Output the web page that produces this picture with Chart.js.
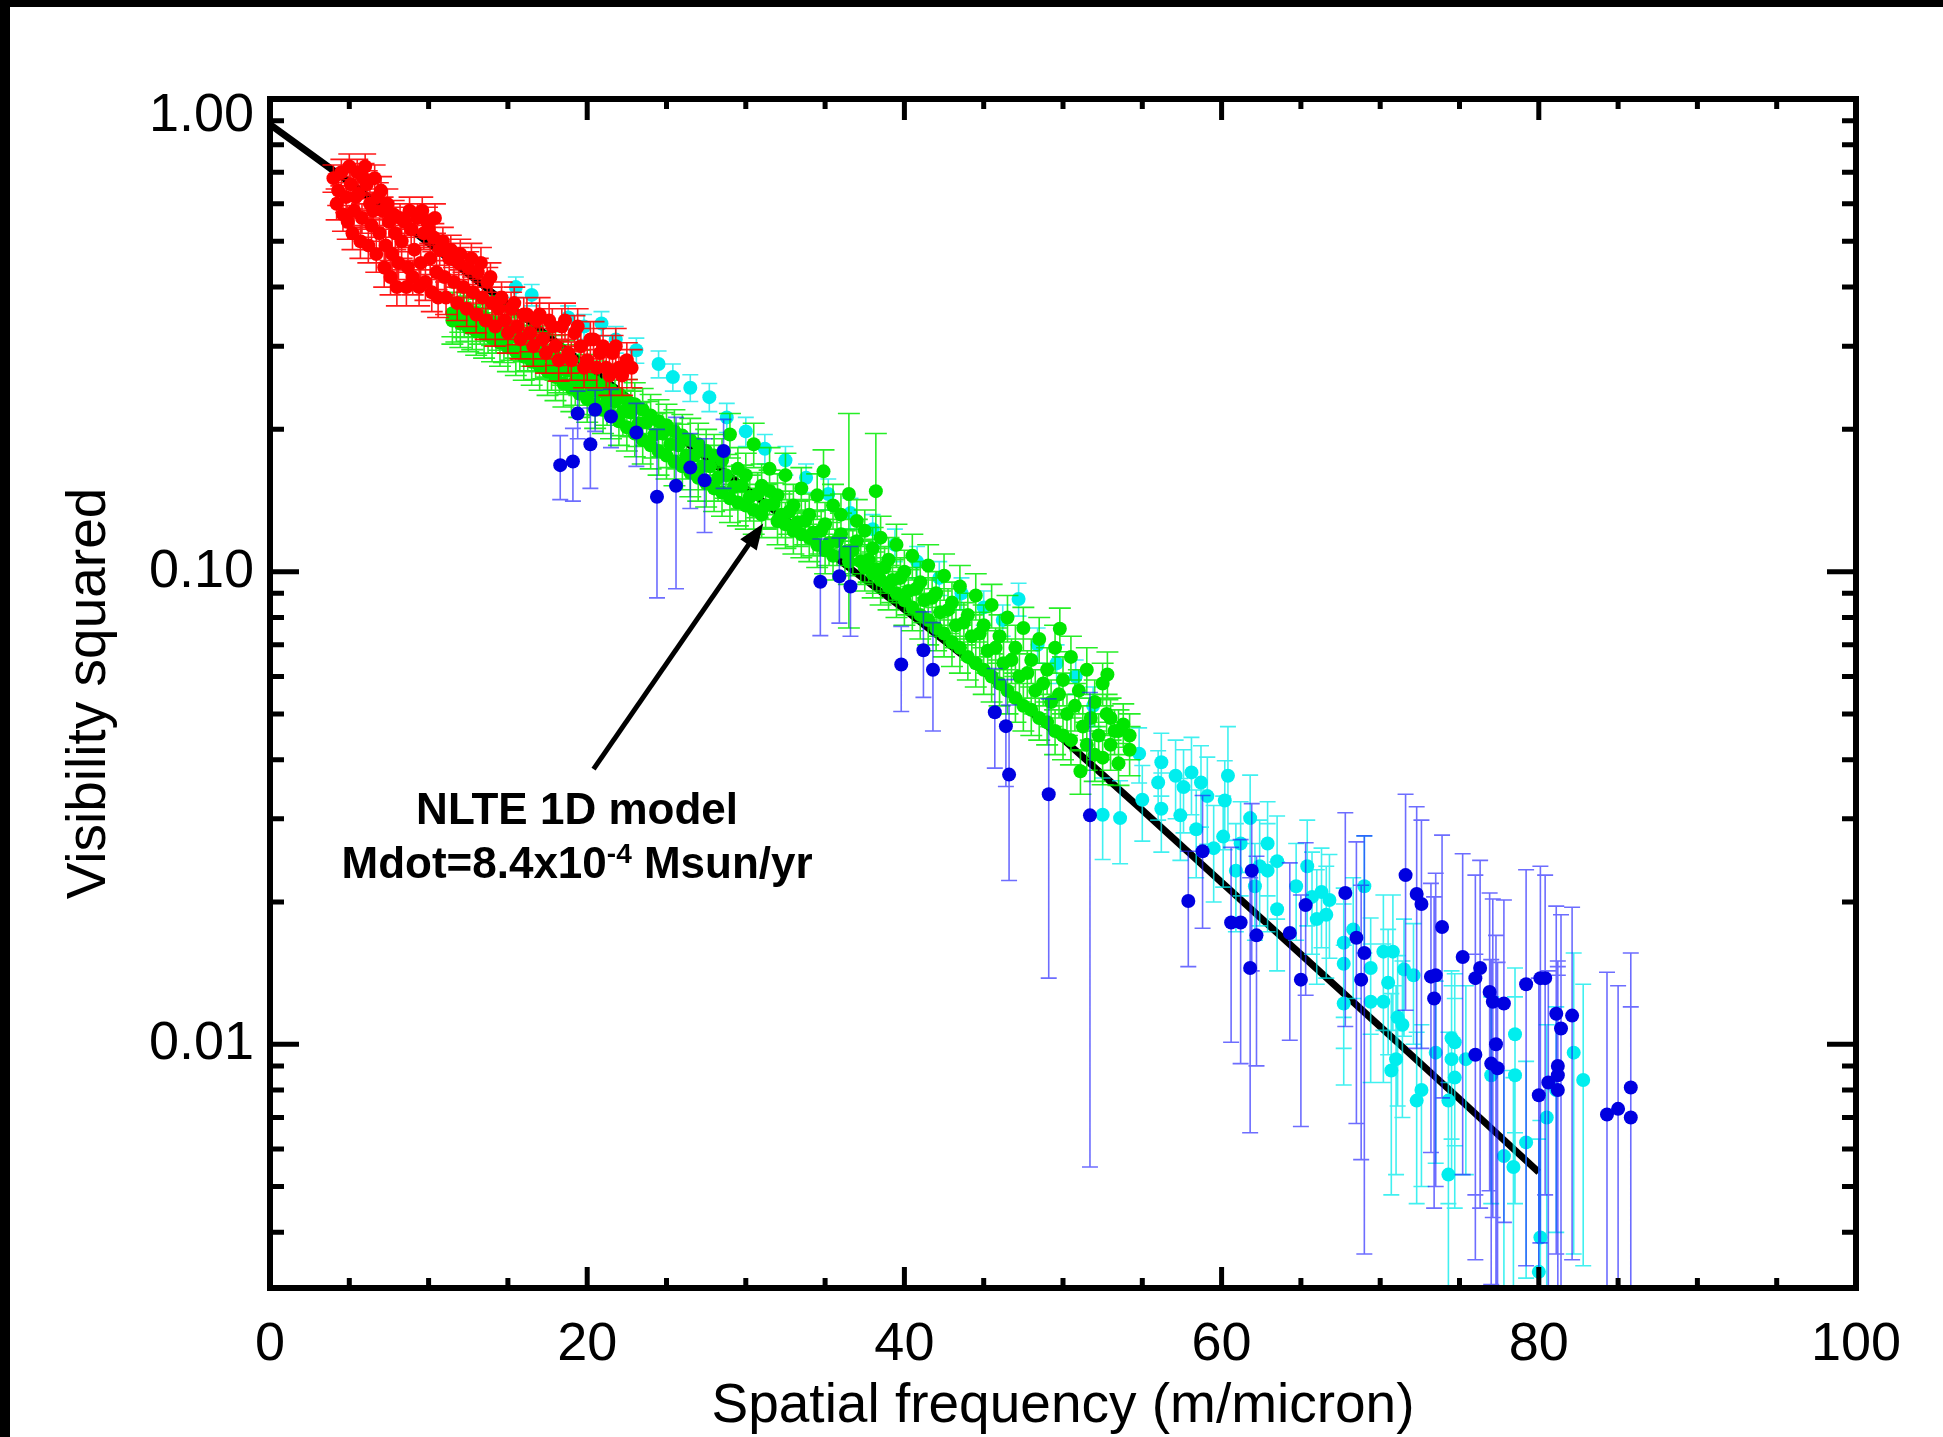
<!DOCTYPE html>
<html>
<head>
<meta charset="utf-8">
<title>Visibility squared</title>
<script src="https://cdn.jsdelivr.net/npm/chart.js@4.4.1/dist/chart.umd.min.js"></script>
<style>
  html, body { margin: 0; padding: 0; background: #fff; }
  canvas { display: block; }
</style>
</head>
<body>
<canvas id="canvas" width="1943" height="1437"></canvas>
<script>
// [freq espacial, V^2, erro]
const vermelho = [
  [4.0, 0.68, 0.045], [4.2, 0.60, 0.045], [4.3, 0.64, 0.045], [4.5, 0.70, 0.045], [4.6, 0.57, 0.045],
  [4.8, 0.62, 0.045], [4.9, 0.55, 0.045], [5.0, 0.72, 0.045], [5.1, 0.66, 0.045], [5.2, 0.52, 0.040],
  [5.3, 0.58, 0.045], [5.4, 0.62, 0.045], [5.5, 0.70, 0.045], [5.6, 0.63, 0.045], [5.7, 0.50, 0.040],
  [5.8, 0.56, 0.040], [5.9, 0.68, 0.050], [6.0, 0.72, 0.045], [6.1, 0.66, 0.045], [6.2, 0.49, 0.040],
  [6.3, 0.60, 0.045], [6.4, 0.54, 0.040], [6.5, 0.58, 0.045], [6.6, 0.68, 0.045], [6.7, 0.47, 0.040],
  [6.8, 0.62, 0.045], [6.9, 0.52, 0.040], [7.0, 0.64, 0.045], [7.1, 0.58, 0.040], [7.2, 0.44, 0.040],
  [7.3, 0.49, 0.040], [7.4, 0.60, 0.045], [7.5, 0.55, 0.040], [7.6, 0.42, 0.035], [7.7, 0.47, 0.040],
  [7.8, 0.57, 0.040], [7.9, 0.52, 0.040], [8.0, 0.40, 0.035], [8.1, 0.45, 0.035], [8.2, 0.56, 0.040],
  [8.3, 0.50, 0.040], [8.5, 0.55, 0.040], [8.6, 0.40, 0.035], [8.7, 0.44, 0.035], [8.8, 0.58, 0.040],
  [8.9, 0.53, 0.040], [9.0, 0.42, 0.035], [9.1, 0.48, 0.035], [9.3, 0.56, 0.040], [9.4, 0.40, 0.035],
  [9.5, 0.45, 0.035], [9.6, 0.58, 0.040], [9.7, 0.52, 0.040], [9.8, 0.41, 0.035], [9.9, 0.55, 0.040],
  [10.0, 0.53, 0.040], [10.1, 0.46, 0.035], [10.2, 0.39, 0.035], [10.3, 0.51, 0.035], [10.4, 0.56, 0.040],
  [10.5, 0.43, 0.035], [10.6, 0.38, 0.035], [10.7, 0.48, 0.035], [10.9, 0.50, 0.035], [11.0, 0.42, 0.035],
  [11.1, 0.38, 0.030], [11.3, 0.46, 0.035], [11.4, 0.48, 0.035], [11.6, 0.41, 0.030], [11.8, 0.37, 0.030],
  [11.9, 0.45, 0.035], [12.0, 0.47, 0.035], [12.2, 0.40, 0.030], [12.4, 0.36, 0.030], [12.5, 0.44, 0.035],
  [12.7, 0.46, 0.035], [12.8, 0.39, 0.030], [13.0, 0.35, 0.030], [13.1, 0.43, 0.030], [13.3, 0.45, 0.035],
  [13.4, 0.38, 0.030], [13.6, 0.34, 0.030], [13.7, 0.41, 0.030], [13.9, 0.42, 0.030], [14.0, 0.37, 0.030],
  [14.2, 0.33, 0.030], [14.4, 0.36, 0.030], [14.6, 0.38, 0.030], [14.8, 0.34, 0.030], [15.0, 0.32, 0.030],
  [15.2, 0.36, 0.030], [15.4, 0.37, 0.030], [15.6, 0.33, 0.028], [15.8, 0.31, 0.028], [16.0, 0.35, 0.030],
  [16.2, 0.35, 0.030], [16.4, 0.32, 0.028], [16.6, 0.30, 0.028], [16.8, 0.34, 0.030], [17.0, 0.35, 0.030],
  [17.2, 0.31, 0.028], [17.4, 0.29, 0.027], [17.6, 0.34, 0.030], [17.8, 0.33, 0.030], [18.0, 0.30, 0.027],
  [18.2, 0.28, 0.027], [18.4, 0.33, 0.030], [18.6, 0.34, 0.030], [18.8, 0.29, 0.027], [19.0, 0.28, 0.026],
  [19.2, 0.32, 0.028], [19.4, 0.33, 0.030], [19.6, 0.30, 0.027], [19.8, 0.27, 0.025], [20.0, 0.28, 0.026],
  [20.2, 0.31, 0.028], [20.4, 0.31, 0.028], [20.6, 0.27, 0.025], [20.8, 0.29, 0.026], [21.0, 0.30, 0.027],
  [21.2, 0.27, 0.025], [21.4, 0.26, 0.024], [21.6, 0.29, 0.026], [21.8, 0.30, 0.027], [22.0, 0.27, 0.025],
  [22.2, 0.26, 0.024], [22.5, 0.28, 0.025], [22.8, 0.27, 0.025]
];

const verde = [
  [11.5, 0.352, 0.038], [11.5, 0.340, 0.037], [12.0, 0.335, 0.037], [12.0, 0.360, 0.039], [12.5, 0.345, 0.038],
  [12.5, 0.328, 0.036], [13.0, 0.352, 0.038], [13.0, 0.322, 0.035], [13.5, 0.318, 0.035], [13.5, 0.345, 0.038],
  [14.0, 0.312, 0.034], [14.0, 0.338, 0.037], [14.5, 0.330, 0.036], [14.5, 0.305, 0.033], [15.0, 0.298, 0.033],
  [15.0, 0.325, 0.035], [15.5, 0.318, 0.035], [15.5, 0.292, 0.032], [16.0, 0.285, 0.031], [16.0, 0.312, 0.034],
  [16.5, 0.305, 0.033], [16.5, 0.278, 0.030], [17.0, 0.272, 0.030], [17.0, 0.298, 0.033], [17.5, 0.290, 0.032],
  [17.5, 0.265, 0.029], [18.0, 0.258, 0.028], [18.0, 0.285, 0.031], [18.5, 0.278, 0.030], [18.5, 0.250, 0.027],
  [19.0, 0.245, 0.027], [19.0, 0.272, 0.030], [19.5, 0.265, 0.029], [19.5, 0.238, 0.026], [20.0, 0.232, 0.025],
  [20.0, 0.260, 0.028], [20.5, 0.252, 0.027], [20.5, 0.226, 0.025], [21.0, 0.220, 0.024], [21.0, 0.248, 0.027],
  [21.5, 0.242, 0.026], [21.5, 0.214, 0.023], [22.0, 0.208, 0.023], [22.0, 0.238, 0.026], [22.5, 0.230, 0.025],
  [22.5, 0.202, 0.022], [23.0, 0.196, 0.021], [23.0, 0.226, 0.025], [23.5, 0.220, 0.024], [23.5, 0.190, 0.021],
  [24.0, 0.185, 0.020], [24.0, 0.214, 0.023], [24.5, 0.208, 0.023], [24.5, 0.180, 0.020], [25.0, 0.176, 0.019],
  [25.0, 0.204, 0.022], [25.5, 0.198, 0.022], [25.5, 0.171, 0.019], [26.0, 0.167, 0.018], [26.0, 0.194, 0.021],
  [26.5, 0.190, 0.021], [26.5, 0.162, 0.018], [27.0, 0.158, 0.017], [27.0, 0.186, 0.020], [27.5, 0.180, 0.020],
  [27.5, 0.154, 0.017], [28.0, 0.150, 0.016], [28.0, 0.176, 0.019], [28.5, 0.172, 0.019], [28.5, 0.147, 0.016],
  [29.0, 0.143, 0.016], [29.0, 0.195, 0.021], [29.5, 0.165, 0.018], [29.5, 0.140, 0.015], [30.0, 0.138, 0.015],
  [30.0, 0.160, 0.018], [30.5, 0.186, 0.020], [30.5, 0.135, 0.015], [31.0, 0.152, 0.017], [31.0, 0.132, 0.014],
  [31.5, 0.148, 0.016], [31.5, 0.165, 0.018], [32.0, 0.128, 0.014], [32.0, 0.145, 0.016], [32.5, 0.160, 0.018],
  [32.5, 0.126, 0.014], [33.0, 0.138, 0.015], [33.0, 0.122, 0.013], [33.5, 0.150, 0.016], [33.5, 0.120, 0.013],
  [34.0, 0.132, 0.014], [34.0, 0.118, 0.013], [34.5, 0.145, 0.016], [34.5, 0.114, 0.012], [34.9, 0.163, 0.018],
  [35.0, 0.126, 0.014], [35.0, 0.111, 0.012], [35.5, 0.138, 0.015], [35.5, 0.108, 0.012], [36.0, 0.120, 0.013],
  [36.0, 0.132, 0.014], [36.5, 0.146, 0.070], [36.5, 0.105, 0.011], [37.0, 0.116, 0.013], [37.0, 0.128, 0.014],
  [37.5, 0.102, 0.011], [37.5, 0.122, 0.013], [38.0, 0.112, 0.012], [38.0, 0.099, 0.011], [38.2, 0.148, 0.048],
  [38.5, 0.118, 0.013], [38.5, 0.096, 0.011], [39.0, 0.106, 0.012], [39.0, 0.093, 0.010], [39.5, 0.114, 0.012],
  [39.5, 0.090, 0.010], [40.0, 0.100, 0.011], [40.0, 0.087, 0.010], [40.5, 0.108, 0.012], [40.5, 0.084, 0.009],
  [41.0, 0.095, 0.010], [41.0, 0.081, 0.009], [41.5, 0.103, 0.011], [41.5, 0.079, 0.009], [42.0, 0.090, 0.010],
  [42.0, 0.076, 0.008], [42.5, 0.098, 0.011], [42.5, 0.074, 0.008], [43.0, 0.086, 0.009], [43.0, 0.071, 0.008],
  [43.5, 0.093, 0.010], [43.5, 0.069, 0.008], [44.0, 0.081, 0.009], [44.0, 0.066, 0.007], [44.5, 0.089, 0.010],
  [44.5, 0.064, 0.007], [45.0, 0.077, 0.008], [45.0, 0.062, 0.007], [45.5, 0.085, 0.009], [45.5, 0.060, 0.007],
  [46.0, 0.073, 0.008], [46.0, 0.058, 0.006], [46.5, 0.080, 0.009], [46.5, 0.056, 0.006], [47.0, 0.069, 0.008],
  [47.0, 0.054, 0.006], [47.5, 0.076, 0.008], [47.5, 0.052, 0.006], [48.0, 0.065, 0.007], [48.0, 0.051, 0.006],
  [48.5, 0.072, 0.008], [48.5, 0.049, 0.005], [49.0, 0.062, 0.007], [49.0, 0.048, 0.005], [49.5, 0.069, 0.008],
  [49.5, 0.046, 0.005], [49.8, 0.0757, 0.008], [50.0, 0.059, 0.007], [50.0, 0.045, 0.005], [50.5, 0.066, 0.007],
  [50.5, 0.044, 0.005], [51.0, 0.056, 0.006], [51.1, 0.0378, 0.004], [51.5, 0.062, 0.007], [51.5, 0.043, 0.005],
  [52.0, 0.053, 0.006], [52.0, 0.041, 0.005], [52.5, 0.0404, 0.005], [52.5, 0.058, 0.006], [52.8, 0.0606, 0.007],
  [53.0, 0.049, 0.005], [53.0, 0.043, 0.005], [53.5, 0.0393, 0.004], [53.5, 0.046, 0.005], [53.8, 0.0475, 0.005],
  [54.2, 0.042, 0.005], [54.2, 0.045, 0.005],
  // pontos do meio da faixa
  [11.75, 0.343, 0.037], [12.25, 0.351, 0.038], [12.75, 0.331, 0.036], [13.25, 0.340, 0.037], [13.75, 0.326, 0.036],
  [14.25, 0.325, 0.035], [14.75, 0.311, 0.034], [15.25, 0.314, 0.034], [15.75, 0.298, 0.033], [16.25, 0.299, 0.033],
  [16.75, 0.286, 0.031], [17.25, 0.287, 0.031], [17.75, 0.272, 0.030], [18.25, 0.268, 0.029], [18.75, 0.266, 0.029],
  [19.25, 0.253, 0.028], [19.75, 0.252, 0.027], [20.25, 0.241, 0.026], [20.75, 0.240, 0.026], [21.25, 0.229, 0.025],
  [21.75, 0.229, 0.025], [22.25, 0.218, 0.024], [22.75, 0.217, 0.024], [23.25, 0.206, 0.022], [23.75, 0.207, 0.022],
  [24.25, 0.195, 0.021], [24.75, 0.196, 0.021], [25.25, 0.186, 0.020], [25.75, 0.185, 0.020], [26.25, 0.176, 0.019],
  [26.75, 0.176, 0.019], [27.25, 0.167, 0.018], [27.75, 0.167, 0.018], [28.25, 0.158, 0.017], [28.75, 0.160, 0.017],
  [29.25, 0.151, 0.016], [29.75, 0.152, 0.016], [30.25, 0.144, 0.016], [30.75, 0.146, 0.016], [31.25, 0.138, 0.015],
  [31.75, 0.139, 0.015], [32.25, 0.132, 0.014], [32.75, 0.134, 0.014], [33.25, 0.127, 0.014], [33.75, 0.128, 0.014],
  [34.25, 0.121, 0.013], [34.75, 0.122, 0.013], [35.25, 0.115, 0.012], [35.75, 0.116, 0.013], [36.25, 0.110, 0.012],
  [36.75, 0.111, 0.012], [37.25, 0.105, 0.011], [37.75, 0.106, 0.011], [38.25, 0.101, 0.011], [38.75, 0.102, 0.011],
  [39.25, 0.096, 0.010], [39.75, 0.097, 0.010], [40.25, 0.091, 0.010], [40.75, 0.092, 0.010], [41.25, 0.087, 0.009],
  [41.75, 0.088, 0.009], [42.25, 0.082, 0.009], [42.75, 0.083, 0.009], [43.25, 0.077, 0.008], [43.75, 0.078, 0.008],
  [44.25, 0.073, 0.008], [44.75, 0.074, 0.008], [45.25, 0.068, 0.007], [45.75, 0.069, 0.007], [46.25, 0.064, 0.007],
  [46.75, 0.065, 0.007], [47.25, 0.060, 0.007], [47.75, 0.061, 0.007], [48.25, 0.056, 0.006], [48.75, 0.058, 0.006],
  [49.25, 0.053, 0.006], [49.75, 0.055, 0.006], [50.25, 0.050, 0.005], [50.75, 0.052, 0.006], [51.25, 0.047, 0.005],
  [51.75, 0.049, 0.005], [52.25, 0.045, 0.005], [52.75, 0.050, 0.005], [53.25, 0.046, 0.005]
];

const ciano = [
  [15.5, 0.40, 0.02], [16.5, 0.385, 0.02], [18.8, 0.345, 0.02], [19.8, 0.33, 0.02], [20.9, 0.335, 0.02],
  [21.8, 0.31, 0.02], [23.1, 0.294, 0.018], [24.5, 0.275, 0.018], [25.4, 0.258, 0.017], [26.5, 0.245, 0.016],
  [27.7, 0.234, 0.016], [28.8, 0.212, 0.015], [30.0, 0.198, 0.014], [31.2, 0.182, 0.013], [32.5, 0.172, 0.012],
  [33.8, 0.158, 0.011], [35.2, 0.146, 0.011], [36.6, 0.133, 0.010], [38.0, 0.123, 0.009], [39.4, 0.114, 0.009],
  [40.8, 0.105, 0.008], [42.2, 0.097, 0.008], [43.6, 0.090, 0.007], [45.0, 0.084, 0.007], [46.2, 0.079, 0.006],
  [47.2, 0.0875, 0.007], [48.4, 0.070, 0.006], [49.6, 0.064, 0.006], [50.8, 0.060, 0.005], [51.9, 0.052, 0.005],
  [52.5, 0.0306, 0.006], [53.6, 0.0301, 0.006], [54.8, 0.0412, 0.0055], [55.0, 0.0329, 0.006], [56.0, 0.0358, 0.006],
  [56.2, 0.0395, 0.006], [56.2, 0.0315, 0.006], [57.1, 0.0370, 0.007], [57.4, 0.0305, 0.006], [57.6, 0.0350, 0.007],
  [58.1, 0.0376, 0.007], [58.4, 0.0285, 0.006], [58.7, 0.0358, 0.007], [59.1, 0.0335, 0.007], [59.5, 0.0260, 0.006],
  [60.1, 0.0275, 0.006], [60.2, 0.0328, 0.007], [60.4, 0.0370, 0.010], [60.9, 0.0233, 0.006], [61.2, 0.0266, 0.006],
  [61.8, 0.0301, 0.007], [62.1, 0.0216, 0.005], [62.4, 0.0238, 0.006], [62.9, 0.0266, 0.006], [62.9, 0.0233, 0.006],
  [63.5, 0.0244, 0.006], [63.5, 0.0193, 0.005], [64.7, 0.0216, 0.005], [65.4, 0.0238, 0.006], [65.7, 0.0205, 0.005],
  [66.0, 0.0184, 0.005], [66.3, 0.0210, 0.005], [66.6, 0.0188, 0.005], [66.8, 0.0202, 0.005], [67.7, 0.0164, 0.005],
  [67.7, 0.0148, 0.005], [67.7, 0.0122, 0.004], [68.3, 0.0175, 0.005], [69.0, 0.0216, 0.006], [69.4, 0.0145, 0.004],
  [69.4, 0.0123, 0.004], [70.2, 0.0157, 0.005], [70.2, 0.0123, 0.004], [70.5, 0.0135, 0.004], [70.7, 0.0088, 0.004],
  [70.8, 0.0157, 0.005], [71.0, 0.0093, 0.004], [71.1, 0.0114, 0.004], [71.4, 0.0110, 0.004], [71.5, 0.0144, 0.004],
  [72.1, 0.0140, 0.004], [72.3, 0.0076, 0.003], [72.6, 0.0080, 0.003], [73.5, 0.0096, 0.004], [74.3, 0.0076, 0.003],
  [74.3, 0.0053, 0.003], [74.5, 0.0103, 0.004], [74.5, 0.0093, 0.004], [74.7, 0.0101, 0.004], [74.7, 0.0085, 0.004],
  [75.4, 0.0093, 0.004], [77.0, 0.0086, 0.004], [77.8, 0.0058, 0.003], [78.4, 0.0055, 0.003], [78.5, 0.0105, 0.004],
  [78.5, 0.0086, 0.004], [79.2, 0.0062, 0.003], [80.0, 0.0033, 0.003], [80.1, 0.0039, 0.003], [80.5, 0.0070, 0.004],
  [81.1, 0.0080, 0.004], [82.2, 0.0096, 0.006], [82.8, 0.0084, 0.005]
];

const azul = [
  [18.3, 0.168, 0.026], [19.1, 0.171, 0.030], [19.4, 0.216, 0.025], [20.2, 0.186, 0.036], [20.5, 0.220, 0.022],
  [21.5, 0.213, 0.030], [23.1, 0.197, 0.030], [24.4, 0.144, 0.056], [25.6, 0.152, 0.060], [26.5, 0.166, 0.030],
  [27.4, 0.156, 0.035], [28.6, 0.180, 0.030], [34.7, 0.0952, 0.022], [35.9, 0.0978, 0.020], [36.6, 0.0930, 0.020],
  [39.8, 0.0636, 0.013], [41.2, 0.0682, 0.014], [41.8, 0.0620, 0.016], [45.7, 0.0504, 0.012], [46.4, 0.0471, 0.012],
  [46.6, 0.0372, 0.015], [49.1, 0.0338, 0.020], [51.7, 0.0305, 0.025], [57.9, 0.0201, 0.0055], [58.8, 0.0256, 0.008],
  [60.6, 0.0181, 0.008], [61.2, 0.0181, 0.009], [61.8, 0.0145, 0.008], [61.9, 0.0233, 0.009], [62.2, 0.0170, 0.008],
  [64.3, 0.0172, 0.007], [65.0, 0.0137, 0.007], [65.3, 0.0197, 0.007], [67.8, 0.0209, 0.010], [68.5, 0.0168, 0.010],
  [69.0, 0.0156, 0.012], [68.8, 0.0137, 0.008], [71.6, 0.0228, 0.011], [72.3, 0.0208, 0.011], [72.6, 0.0198, 0.010],
  [73.9, 0.0177, 0.010], [73.2, 0.0139, 0.008], [73.5, 0.0140, 0.009], [73.4, 0.0125, 0.008], [75.2, 0.0153, 0.010],
  [76.3, 0.0145, 0.010], [76.0, 0.0138, 0.009], [76.9, 0.0129, 0.008], [77.1, 0.0123, 0.008], [77.8, 0.0122, 0.008],
  [77.3, 0.0100, 0.007], [76.0, 0.0095, 0.006], [77.0, 0.0091, 0.006], [77.4, 0.0089, 0.006], [79.2, 0.0134, 0.010],
  [80.1, 0.0138, 0.010], [80.4, 0.0138, 0.009], [81.1, 0.0116, 0.008], [81.4, 0.0108, 0.008], [82.1, 0.0115, 0.008],
  [81.2, 0.0090, 0.006], [81.2, 0.0086, 0.006], [81.2, 0.0080, 0.006], [80.6, 0.0083, 0.006], [80.0, 0.0078, 0.006],
  [84.3, 0.0071, 0.0071], [85.0, 0.0073, 0.0060], [85.8, 0.0081, 0.0075], [85.8, 0.0070, 0.0050]
];

// modelo NLTE 1D
const modeloX = [0, 5, 10, 15, 20, 25, 30, 35, 40, 45, 50, 55, 60, 65, 70, 75, 80];
const modeloY = [0.883, 0.667, 0.495, 0.367, 0.272, 0.202, 0.150, 0.1114, 0.0832, 0.0614, 0.0442, 0.0313, 0.0220, 0.0155, 0.0109, 0.00766, 0.00536];

const xTicks = [0, 20, 40, 60, 80, 100];
const xTickLabels = ['0', '20', '40', '60', '80', '100'];
const xMinor = [5, 10, 15, 25, 30, 35, 45, 50, 55, 65, 70, 75, 85, 90, 95];
const yTicks = [0.01, 0.1, 1];
const yTickLabels = ['0.01', '0.10', '1.00'];
const yMinor = [0.004, 0.005, 0.006, 0.007, 0.008, 0.009, 0.02, 0.03, 0.04, 0.05, 0.06, 0.07, 0.08, 0.09,
                0.2, 0.3, 0.4, 0.5, 0.6, 0.7, 0.8, 0.9];

// anotacao (coordenadas de dados)
const setaX = [20.4, 31.1];
const setaY = [0.0382, 0.1264];
const textoX = 19.36;
const textoY = [0.02924, 0.02248];

const fonte = '"Liberation Sans", Arial, Helvetica, sans-serif';

function pontos(lista) {
    return lista.map(p => ({x: p[0], y: p[1]}));
}

const barrasErro = {
    id: 'barrasErro',
    beforeDatasetDraw(chart, args) {
        let ds = chart.data.datasets[args.index];
        if (!ds.erros) return;
        let ctx = chart.ctx;
        let a = chart.chartArea;
        let y = chart.scales.y;
        let cap = ds.cap || 8;
        ctx.save();
        ctx.beginPath();
        ctx.rect(a.left, a.top, a.right - a.left, a.bottom - a.top);
        ctx.clip();
        ctx.strokeStyle = ds.corErro;
        ctx.lineWidth = 1.6;
        ctx.beginPath();
        args.meta.data.forEach((pt, i) => {
            let v = ds.data[i].y;
            let e = ds.erros[i];
            let topo = y.getPixelForValue(v + e);
            let temBase = v - e > 0;
            let base = temBase ? y.getPixelForValue(v - e) : a.bottom + 20;
            ctx.moveTo(pt.x, topo);
            ctx.lineTo(pt.x, base);
            ctx.moveTo(pt.x - cap, topo);
            ctx.lineTo(pt.x + cap, topo);
            if (temBase) {
                ctx.moveTo(pt.x - cap, base);
                ctx.lineTo(pt.x + cap, base);
            }
        });
        ctx.stroke();
        ctx.restore();
    }
};

const moldura = {
    id: 'moldura',
    beforeDraw(chart) {
        let ctx = chart.ctx;
        ctx.save();
        ctx.fillStyle = '#fff';
        ctx.fillRect(0, 0, chart.width, chart.height);
        ctx.fillStyle = '#000';
        ctx.fillRect(0, 0, chart.width, 7);
        ctx.fillRect(0, 0, 10, chart.height);
        ctx.restore();
    },
    afterDraw(chart) {
        let ctx = chart.ctx;
        let a = chart.chartArea;
        let sx = chart.scales.x;
        let sy = chart.scales.y;
        ctx.save();
        ctx.strokeStyle = '#000';
        ctx.lineWidth = 5;
        ctx.beginPath();
        function tx(v, len) {
            let p = sx.getPixelForValue(v);
            ctx.moveTo(p, a.bottom); ctx.lineTo(p, a.bottom - len);
            ctx.moveTo(p, a.top); ctx.lineTo(p, a.top + len);
        }
        function ty(v, len) {
            let p = sy.getPixelForValue(v);
            ctx.moveTo(a.left, p); ctx.lineTo(a.left + len, p);
            ctx.moveTo(a.right, p); ctx.lineTo(a.right - len, p);
        }
        xTicks.forEach(v => tx(v, 21));
        xMinor.forEach(v => tx(v, 10));
        yTicks.forEach(v => ty(v, 29));
        yMinor.forEach(v => ty(v, 14));
        ctx.stroke();
        ctx.lineWidth = 6;
        ctx.strokeRect(a.left, a.top, a.right - a.left, a.bottom - a.top);

        // rotulos do eixo y (o de cima fica dentro da moldura)
        ctx.fillStyle = '#000';
        ctx.font = '54px ' + fonte;
        ctx.textAlign = 'right';
        ctx.textBaseline = 'middle';
        yTicks.forEach((v, i) => {
            let p = Math.max(sy.getPixelForValue(v), a.top + 17);
            ctx.fillText(yTickLabels[i], a.left - 16, p);
        });

        // seta
        let x0 = sx.getPixelForValue(setaX[0]), y0 = sy.getPixelForValue(setaY[0]);
        let x1 = sx.getPixelForValue(setaX[1]), y1 = sy.getPixelForValue(setaY[1]);
        let ang = Math.atan2(y1 - y0, x1 - x0);
        let cab = 26, larg = 10;
        ctx.lineWidth = 5;
        ctx.beginPath();
        ctx.moveTo(x0, y0);
        ctx.lineTo(x1 - cab * 0.8 * Math.cos(ang), y1 - cab * 0.8 * Math.sin(ang));
        ctx.stroke();
        ctx.beginPath();
        ctx.moveTo(x1, y1);
        ctx.lineTo(x1 - cab * Math.cos(ang) + larg * Math.sin(ang), y1 - cab * Math.sin(ang) - larg * Math.cos(ang));
        ctx.lineTo(x1 - cab * Math.cos(ang) - larg * Math.sin(ang), y1 - cab * Math.sin(ang) + larg * Math.cos(ang));
        ctx.closePath();
        ctx.fill();

        // texto
        let cx = sx.getPixelForValue(textoX);
        ctx.textBaseline = 'alphabetic';
        ctx.textAlign = 'center';
        ctx.font = 'bold 44px ' + fonte;
        ctx.fillText('NLTE 1D model', cx, sy.getPixelForValue(textoY[0]));

        let b2 = sy.getPixelForValue(textoY[1]);
        let p1 = 'Mdot=8.4x10', p2 = '-4', p3 = ' Msun/yr';
        ctx.font = 'bold 44px ' + fonte;
        let w1 = ctx.measureText(p1).width, w3 = ctx.measureText(p3).width;
        ctx.font = 'bold 28px ' + fonte;
        let w2 = ctx.measureText(p2).width;
        let ini = cx - (w1 + w2 + w3) / 2;
        ctx.textAlign = 'left';
        ctx.font = 'bold 44px ' + fonte;
        ctx.fillText(p1, ini, b2);
        ctx.font = 'bold 28px ' + fonte;
        ctx.fillText(p2, ini + w1, b2 - 15);
        ctx.font = 'bold 44px ' + fonte;
        ctx.fillText(p3, ini + w1 + w2, b2);
        ctx.restore();
    }
};

function grafico() {
    let ctx = document.getElementById('canvas').getContext('2d');

    let modelo = modeloX.map((x, i) => ({x: x, y: modeloY[i]}));

    new Chart(ctx, {
        type: 'scatter',
        data: {
            datasets: [
                {
                    label: 'blue', data: pontos(azul), erros: azul.map(p => p[2]),
                    corErro: 'rgba(30,30,255,0.65)', backgroundColor: '#0000e0', borderWidth: 0,
                    pointRadius: 7, order: 1
                },
                {
                    label: 'red', data: pontos(vermelho), erros: vermelho.map(p => p[2]), cap: 11,
                    corErro: 'rgba(255,0,0,0.9)', backgroundColor: '#ff0000', borderWidth: 0,
                    pointRadius: 7, order: 2
                },
                {
                    label: 'green', data: pontos(verde), erros: verde.map(p => p[2]), cap: 11,
                    corErro: 'rgba(0,235,0,0.85)', backgroundColor: '#00e600', borderWidth: 0,
                    pointRadius: 7, order: 3
                },
                {
                    label: 'cyan', data: pontos(ciano), erros: ciano.map(p => p[2]),
                    corErro: 'rgba(0,235,235,0.75)', backgroundColor: '#00eeee', borderWidth: 0,
                    pointRadius: 7, order: 4
                },
                {
                    label: 'NLTE 1D model', data: modelo, showLine: true, pointRadius: 0,
                    borderColor: '#000', borderWidth: 7, order: 5
                }
            ]
        },
        options: {
            responsive: false,
            devicePixelRatio: 1,
            animation: false,
            layout: {
                padding: {left: 0, top: 99, right: 87, bottom: 0}
            },
            plugins: {
                legend: {display: false},
                tooltip: {enabled: false}
            },
            scales: {
                x: {
                    type: 'linear',
                    min: 0,
                    max: 100,
                    grid: {display: false, drawTicks: false},
                    border: {display: false},
                    afterBuildTicks: (s) => { s.ticks = xTicks.map(v => ({value: v})); },
                    afterFit: (s) => { s.height = 149; },
                    ticks: {
                        autoSkip: false,
                        maxRotation: 0,
                        padding: 25,
                        color: '#000',
                        font: {family: fonte, size: 54},
                        callback: (v, i) => xTickLabels[i]
                    },
                    title: {
                        display: true,
                        text: 'Spatial frequency (m/micron)',
                        color: '#000',
                        font: {family: fonte, size: 55, lineHeight: 1},
                        padding: {top: 0, bottom: 3}
                    }
                },
                y: {
                    type: 'logarithmic',
                    min: 0.00305,
                    max: 1,
                    grid: {display: false, drawTicks: false},
                    border: {display: false},
                    afterFit: (s) => { s.width = 270; },
                    ticks: {display: false},
                    title: {
                        display: true,
                        text: 'Visibility squared',
                        color: '#000',
                        font: {family: fonte, size: 55},
                        padding: {top: 57, bottom: 0}
                    }
                }
            }
        },
        plugins: [barrasErro, moldura]
    });
}

grafico();
</script>
</body>
</html>
